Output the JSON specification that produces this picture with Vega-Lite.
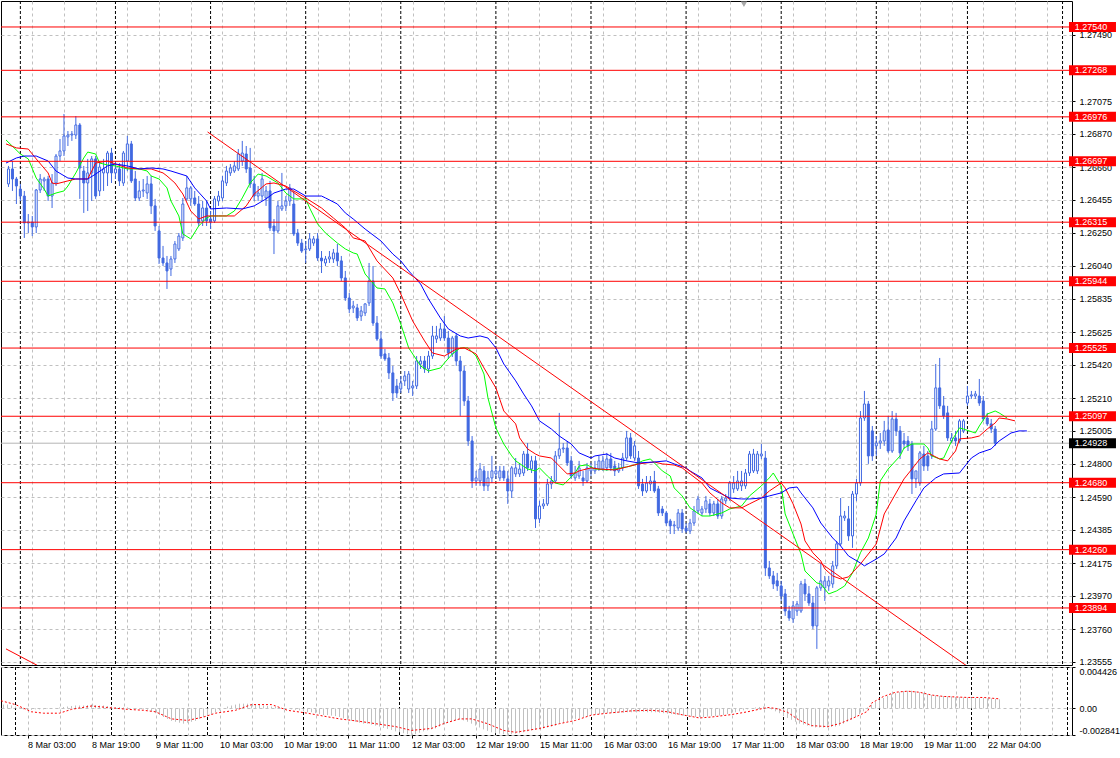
{
"$schema":"https://vega.github.io/schema/vega-lite/v6.json",
"background":"#ffffff",
"padding":0,
"autosize":{"type":"pad"},
"spacing":2,
"bounds":"flush",
"config":{"view":{"stroke":"#000000","strokeWidth":1},"font":"Liberation Sans","axis":{"labelOverlap":false,"labelBound":false,"labelFlush":false,"title":null}},
"datasets":{
"sp":[{"i":0},{"i":24},{"i":48},{"i":72},{"i":96},{"i":120},{"i":144},{"i":168},{"i":192},{"i":216},{"i":239},{"i":263}],
"tg":[{"p":1.2754,"k":"level"},{"p":1.27268,"k":"level"},{"p":1.26976,"k":"level"},{"p":1.26697,"k":"level"},{"p":1.26315,"k":"level"},{"p":1.25944,"k":"level"},{"p":1.25525,"k":"level"},{"p":1.25097,"k":"level"},{"p":1.2468,"k":"level"},{"p":1.2426,"k":"level"},{"p":1.23894,"k":"level"},{"p":1.24928,"k":"bid"}],
"tl":[{"i":47.25,"p":1.26881,"g":"a"},{"i":240,"p":1.2351,"g":"a"},{"i":-3.625,"p":1.23637,"g":"b"},{"i":6,"p":1.23511,"g":"b"}],
"c":[
{"i":-3,"o":1.26555,"h":1.26668,"l":1.26536,"c":1.26649,"m":0.00041},
{"i":-2,"o":1.26649,"h":1.26699,"l":1.26511,"c":1.26586,"m":0.00041},
{"i":-1,"o":1.26586,"h":1.26599,"l":1.26429,"c":1.26542,"m":0.00031},
{"i":0,"o":1.26523,"h":1.26555,"l":1.26448,"c":1.26479,"m":0.0002},
{"i":1,"o":1.26479,"h":1.26511,"l":1.26216,"c":1.2631,"m":0.0001},
{"i":2,"o":1.2631,"h":1.26366,"l":1.26247,"c":1.26316,"m":-0.0001},
{"i":3,"o":1.26316,"h":1.26354,"l":1.26228,"c":1.26285,"m":-0.00015},
{"i":4,"o":1.26285,"h":1.26523,"l":1.26247,"c":1.26517,"m":-0.00015},
{"i":5,"o":1.26517,"h":1.26617,"l":1.26498,"c":1.26586,"m":-0.0001},
{"i":6,"o":1.26574,"h":1.26599,"l":1.26511,"c":1.26586,"m":-0.0001},
{"i":7,"o":1.26586,"h":1.26605,"l":1.26448,"c":1.26479,"m":-0.0001},
{"i":8,"o":1.26479,"h":1.26617,"l":1.26404,"c":1.26561,"m":-0.00005},
{"i":9,"o":1.26561,"h":1.26743,"l":1.26542,"c":1.2673,"m":0},
{"i":10,"o":1.2673,"h":1.26837,"l":1.26699,"c":1.26762,"m":0.00005},
{"i":11,"o":1.26762,"h":1.26994,"l":1.2673,"c":1.26856,"m":0.0001},
{"i":12,"o":1.2685,"h":1.26887,"l":1.26793,"c":1.26862,"m":0.00015},
{"i":13,"o":1.26862,"h":1.26887,"l":1.26825,"c":1.26868,"m":0.0002},
{"i":14,"o":1.26862,"h":1.26981,"l":1.26837,"c":1.26925,"m":0.00026},
{"i":15,"o":1.26925,"h":1.26937,"l":1.26461,"c":1.26655,"m":0.00031},
{"i":16,"o":1.26636,"h":1.26668,"l":1.26373,"c":1.26561,"m":0.00031},
{"i":17,"o":1.26561,"h":1.26712,"l":1.26385,"c":1.26624,"m":0.00031},
{"i":18,"o":1.26624,"h":1.2673,"l":1.26448,"c":1.26712,"m":0.00036},
{"i":19,"o":1.26712,"h":1.2673,"l":1.26461,"c":1.26479,"m":0.00041},
{"i":20,"o":1.26511,"h":1.26699,"l":1.26479,"c":1.26661,"m":0.00036},
{"i":21,"o":1.26624,"h":1.26712,"l":1.26511,"c":1.26649,"m":0.00031},
{"i":22,"o":1.26624,"h":1.26762,"l":1.26542,"c":1.26749,"m":0.00031},
{"i":23,"o":1.26749,"h":1.26781,"l":1.26561,"c":1.26624,"m":0.00026},
{"i":24,"o":1.26624,"h":1.26699,"l":1.26586,"c":1.26649,"m":0.0002},
{"i":25,"o":1.26649,"h":1.26686,"l":1.26542,"c":1.26574,"m":0.00015},
{"i":26,"o":1.26561,"h":1.26762,"l":1.26542,"c":1.26749,"m":0.00015},
{"i":27,"o":1.26699,"h":1.26856,"l":1.26636,"c":1.26806,"m":0.0001},
{"i":28,"o":1.26806,"h":1.26825,"l":1.26561,"c":1.26574,"m":0.0001},
{"i":29,"o":1.26586,"h":1.26636,"l":1.26448,"c":1.26467,"m":0},
{"i":30,"o":1.26467,"h":1.26574,"l":1.26448,"c":1.26511,"m":-0.00005},
{"i":31,"o":1.26511,"h":1.26586,"l":1.26473,"c":1.26517,"m":-0.0001},
{"i":32,"o":1.26498,"h":1.26605,"l":1.26461,"c":1.26555,"m":-0.0001},
{"i":33,"o":1.26555,"h":1.26605,"l":1.26366,"c":1.26417,"m":-0.00015},
{"i":34,"o":1.26417,"h":1.26461,"l":1.2626,"c":1.26291,"m":-0.00031},
{"i":35,"o":1.2626,"h":1.26291,"l":1.26053,"c":1.2609,"m":-0.00051},
{"i":36,"o":1.2609,"h":1.26166,"l":1.2604,"c":1.26059,"m":-0.00071},
{"i":37,"o":1.26059,"h":1.26103,"l":1.25896,"c":1.26009,"m":-0.00092},
{"i":38,"o":1.26021,"h":1.26103,"l":1.25977,"c":1.26084,"m":-0.00112},
{"i":39,"o":1.26084,"h":1.26197,"l":1.26059,"c":1.26178,"m":-0.00133},
{"i":40,"o":1.26147,"h":1.26247,"l":1.26134,"c":1.26228,"m":-0.00143},
{"i":41,"o":1.26216,"h":1.26467,"l":1.26197,"c":1.26429,"m":-0.00153},
{"i":42,"o":1.26461,"h":1.26605,"l":1.26448,"c":1.2653,"m":-0.00163},
{"i":43,"o":1.26461,"h":1.26542,"l":1.26417,"c":1.2653,"m":-0.00153},
{"i":44,"o":1.26467,"h":1.26511,"l":1.26417,"c":1.26429,"m":-0.00143},
{"i":45,"o":1.26429,"h":1.26479,"l":1.26291,"c":1.2631,"m":-0.00133},
{"i":46,"o":1.26323,"h":1.26448,"l":1.26291,"c":1.26404,"m":-0.00112},
{"i":47,"o":1.26404,"h":1.26448,"l":1.26291,"c":1.26323,"m":-0.00092},
{"i":48,"o":1.26335,"h":1.26385,"l":1.26272,"c":1.26316,"m":-0.00082},
{"i":49,"o":1.26323,"h":1.26479,"l":1.2631,"c":1.26461,"m":-0.00061},
{"i":50,"o":1.26448,"h":1.26511,"l":1.26417,"c":1.26479,"m":-0.00041},
{"i":51,"o":1.26467,"h":1.26605,"l":1.26448,"c":1.26574,"m":-0.0002},
{"i":52,"o":1.26561,"h":1.26668,"l":1.26542,"c":1.26636,"m":0},
{"i":53,"o":1.26624,"h":1.2668,"l":1.26605,"c":1.26655,"m":0.0002},
{"i":54,"o":1.26636,"h":1.26699,"l":1.26624,"c":1.26668,"m":0.00031},
{"i":55,"o":1.26649,"h":1.26774,"l":1.26636,"c":1.26743,"m":0.00041},
{"i":56,"o":1.26699,"h":1.26825,"l":1.26668,"c":1.26749,"m":0.00051},
{"i":57,"o":1.26743,"h":1.26793,"l":1.26624,"c":1.26649,"m":0.00051},
{"i":58,"o":1.26655,"h":1.26781,"l":1.2653,"c":1.26555,"m":0.00051},
{"i":59,"o":1.26555,"h":1.26605,"l":1.26448,"c":1.26479,"m":0.00046},
{"i":60,"o":1.26479,"h":1.26542,"l":1.26448,"c":1.26498,"m":0.00041},
{"i":61,"o":1.26479,"h":1.26624,"l":1.26448,"c":1.26586,"m":0.00041},
{"i":62,"o":1.26467,"h":1.26542,"l":1.26417,"c":1.26511,"m":0.00031},
{"i":63,"o":1.26511,"h":1.26574,"l":1.2626,"c":1.26279,"m":0.00026},
{"i":64,"o":1.26291,"h":1.26335,"l":1.26115,"c":1.2626,"m":0.0002},
{"i":65,"o":1.2626,"h":1.26448,"l":1.26247,"c":1.26417,"m":0.00015},
{"i":66,"o":1.26398,"h":1.26624,"l":1.26385,"c":1.26417,"m":0.0001},
{"i":67,"o":1.26417,"h":1.26479,"l":1.26385,"c":1.26448,"m":0.00005},
{"i":68,"o":1.26448,"h":1.26555,"l":1.26417,"c":1.2653,"m":0},
{"i":69,"o":1.26429,"h":1.26511,"l":1.26228,"c":1.26241,"m":-0.0001},
{"i":70,"o":1.26247,"h":1.26272,"l":1.26166,"c":1.26184,"m":-0.00015},
{"i":71,"o":1.26184,"h":1.2621,"l":1.26122,"c":1.26134,"m":-0.0002},
{"i":72,"o":1.26141,"h":1.26197,"l":1.26059,"c":1.26147,"m":-0.00031},
{"i":73,"o":1.26147,"h":1.26247,"l":1.26134,"c":1.2621,"m":-0.00041},
{"i":74,"o":1.26184,"h":1.26228,"l":1.26166,"c":1.2621,"m":-0.00041},
{"i":75,"o":1.2621,"h":1.26247,"l":1.26072,"c":1.2609,"m":-0.00051},
{"i":76,"o":1.2609,"h":1.26134,"l":1.25996,"c":1.26072,"m":-0.00061},
{"i":77,"o":1.26059,"h":1.26103,"l":1.2604,"c":1.26084,"m":-0.00071},
{"i":78,"o":1.26084,"h":1.26134,"l":1.26059,"c":1.26097,"m":-0.00071},
{"i":79,"o":1.26084,"h":1.26147,"l":1.26059,"c":1.26122,"m":-0.00077},
{"i":80,"o":1.26122,"h":1.26178,"l":1.2604,"c":1.26072,"m":-0.00082},
{"i":81,"o":1.26072,"h":1.26103,"l":1.25946,"c":1.25965,"m":-0.00092},
{"i":82,"o":1.25965,"h":1.26009,"l":1.25821,"c":1.25839,"m":-0.00107},
{"i":83,"o":1.25839,"h":1.25871,"l":1.25745,"c":1.2577,"m":-0.00122},
{"i":84,"o":1.25777,"h":1.25821,"l":1.25745,"c":1.25789,"m":-0.00133},
{"i":85,"o":1.25777,"h":1.25802,"l":1.25695,"c":1.25714,"m":-0.00143},
{"i":86,"o":1.25726,"h":1.25789,"l":1.25695,"c":1.25758,"m":-0.00153},
{"i":87,"o":1.25745,"h":1.25806,"l":1.25726,"c":1.25802,"m":-0.00163},
{"i":88,"o":1.25808,"h":1.26059,"l":1.25789,"c":1.25946,"m":-0.00163},
{"i":89,"o":1.25946,"h":1.2604,"l":1.25664,"c":1.25682,"m":-0.00173},
{"i":90,"o":1.25682,"h":1.25726,"l":1.2557,"c":1.25582,"m":-0.00184},
{"i":91,"o":1.25582,"h":1.25632,"l":1.25457,"c":1.25475,"m":-0.00194},
{"i":92,"o":1.25488,"h":1.25519,"l":1.25444,"c":1.25457,"m":-0.00209},
{"i":93,"o":1.25463,"h":1.25494,"l":1.25331,"c":1.25369,"m":-0.00219},
{"i":94,"o":1.25369,"h":1.25413,"l":1.25193,"c":1.25243,"m":-0.0023},
{"i":95,"o":1.25287,"h":1.25331,"l":1.25212,"c":1.25243,"m":-0.00245},
{"i":96,"o":1.25268,"h":1.2535,"l":1.25243,"c":1.25306,"m":-0.00255},
{"i":97,"o":1.25319,"h":1.25381,"l":1.25287,"c":1.2535,"m":-0.00265},
{"i":98,"o":1.25268,"h":1.25381,"l":1.25243,"c":1.25362,"m":-0.00275},
{"i":99,"o":1.25275,"h":1.25319,"l":1.25224,"c":1.25287,"m":-0.00281},
{"i":100,"o":1.25287,"h":1.25475,"l":1.25268,"c":1.25444,"m":-0.00275},
{"i":101,"o":1.25425,"h":1.25475,"l":1.25394,"c":1.25444,"m":-0.0026},
{"i":102,"o":1.25444,"h":1.25475,"l":1.25369,"c":1.25394,"m":-0.00245},
{"i":103,"o":1.25394,"h":1.25507,"l":1.25369,"c":1.25475,"m":-0.00235},
{"i":104,"o":1.25475,"h":1.25664,"l":1.25457,"c":1.25601,"m":-0.00224},
{"i":105,"o":1.25582,"h":1.25664,"l":1.25557,"c":1.25601,"m":-0.00214},
{"i":106,"o":1.25588,"h":1.25682,"l":1.2557,"c":1.25645,"m":-0.00194},
{"i":107,"o":1.25645,"h":1.25726,"l":1.2557,"c":1.25588,"m":-0.00173},
{"i":108,"o":1.25588,"h":1.25632,"l":1.25457,"c":1.25494,"m":-0.00153},
{"i":109,"o":1.25488,"h":1.25601,"l":1.25469,"c":1.25588,"m":-0.00138},
{"i":110,"o":1.25601,"h":1.2562,"l":1.25413,"c":1.25444,"m":-0.00128},
{"i":111,"o":1.25444,"h":1.25475,"l":1.25099,"c":1.25381,"m":-0.00122},
{"i":112,"o":1.25381,"h":1.25413,"l":1.25162,"c":1.25193,"m":-0.00128},
{"i":113,"o":1.25193,"h":1.25224,"l":1.24911,"c":1.24942,"m":-0.00143},
{"i":114,"o":1.24942,"h":1.24973,"l":1.24647,"c":1.24691,"m":-0.00163},
{"i":115,"o":1.24691,"h":1.24754,"l":1.2466,"c":1.2471,"m":-0.00184},
{"i":116,"o":1.24691,"h":1.24804,"l":1.2466,"c":1.24766,"m":-0.00204},
{"i":117,"o":1.24754,"h":1.24785,"l":1.24628,"c":1.2466,"m":-0.00224},
{"i":118,"o":1.2466,"h":1.24754,"l":1.24628,"c":1.2471,"m":-0.0024},
{"i":119,"o":1.2471,"h":1.24848,"l":1.24678,"c":1.24754,"m":-0.00255},
{"i":120,"o":1.24735,"h":1.24785,"l":1.24704,"c":1.24754,"m":-0.00265},
{"i":121,"o":1.2471,"h":1.24785,"l":1.24691,"c":1.24754,"m":-0.0027},
{"i":122,"o":1.24754,"h":1.24785,"l":1.24691,"c":1.2471,"m":-0.00275},
{"i":123,"o":1.24704,"h":1.24754,"l":1.24547,"c":1.24628,"m":-0.00281},
{"i":124,"o":1.24628,"h":1.24785,"l":1.24584,"c":1.24773,"m":-0.00275},
{"i":125,"o":1.24735,"h":1.24835,"l":1.24716,"c":1.24773,"m":-0.0027},
{"i":126,"o":1.24735,"h":1.24804,"l":1.24716,"c":1.24766,"m":-0.00265},
{"i":127,"o":1.24741,"h":1.24879,"l":1.24722,"c":1.2486,"m":-0.00255},
{"i":128,"o":1.2486,"h":1.24929,"l":1.24754,"c":1.24773,"m":-0.00245},
{"i":129,"o":1.24766,"h":1.24848,"l":1.24741,"c":1.24817,"m":-0.00235},
{"i":130,"o":1.24817,"h":1.24848,"l":1.24396,"c":1.24453,"m":-0.0023},
{"i":131,"o":1.24453,"h":1.24566,"l":1.24427,"c":1.24534,"m":-0.00224},
{"i":132,"o":1.24534,"h":1.24578,"l":1.24515,"c":1.24547,"m":-0.00214},
{"i":133,"o":1.24547,"h":1.24704,"l":1.24534,"c":1.24672,"m":-0.00204},
{"i":134,"o":1.24672,"h":1.24722,"l":1.24641,"c":1.24691,"m":-0.00194},
{"i":135,"o":1.24691,"h":1.24879,"l":1.24678,"c":1.24848,"m":-0.00184},
{"i":136,"o":1.24848,"h":1.25118,"l":1.24829,"c":1.24892,"m":-0.00163},
{"i":137,"o":1.24892,"h":1.24929,"l":1.24867,"c":1.24898,"m":-0.00153},
{"i":138,"o":1.24898,"h":1.24942,"l":1.24785,"c":1.24804,"m":-0.00138},
{"i":139,"o":1.24817,"h":1.24848,"l":1.24704,"c":1.24722,"m":-0.00122},
{"i":140,"o":1.2471,"h":1.24785,"l":1.24691,"c":1.24741,"m":-0.00112},
{"i":141,"o":1.24722,"h":1.24817,"l":1.24704,"c":1.24773,"m":-0.00102},
{"i":142,"o":1.2471,"h":1.24754,"l":1.2466,"c":1.24691,"m":-0.00092},
{"i":143,"o":1.24691,"h":1.24804,"l":1.24678,"c":1.24773,"m":-0.00082},
{"i":144,"o":1.24754,"h":1.24804,"l":1.24722,"c":1.24773,"m":-0.00071},
{"i":145,"o":1.24754,"h":1.24817,"l":1.24735,"c":1.24773,"m":-0.00066},
{"i":146,"o":1.24766,"h":1.24848,"l":1.24754,"c":1.24817,"m":-0.00061},
{"i":147,"o":1.24766,"h":1.24848,"l":1.24754,"c":1.24817,"m":-0.00056},
{"i":148,"o":1.24773,"h":1.24867,"l":1.24754,"c":1.24829,"m":-0.00051},
{"i":149,"o":1.24829,"h":1.24867,"l":1.24754,"c":1.24773,"m":-0.00051},
{"i":150,"o":1.24785,"h":1.24817,"l":1.24722,"c":1.24754,"m":-0.00051},
{"i":151,"o":1.24754,"h":1.24804,"l":1.24741,"c":1.24773,"m":-0.00046},
{"i":152,"o":1.24773,"h":1.24867,"l":1.24754,"c":1.24835,"m":-0.00046},
{"i":153,"o":1.24835,"h":1.25005,"l":1.24817,"c":1.24961,"m":-0.00041},
{"i":154,"o":1.24961,"h":1.24992,"l":1.24829,"c":1.24848,"m":-0.00041},
{"i":155,"o":1.24835,"h":1.24942,"l":1.24817,"c":1.24911,"m":-0.00036},
{"i":156,"o":1.24835,"h":1.24879,"l":1.24641,"c":1.2466,"m":-0.00036},
{"i":157,"o":1.24672,"h":1.24704,"l":1.24597,"c":1.24628,"m":-0.00036},
{"i":158,"o":1.24628,"h":1.24722,"l":1.24616,"c":1.24678,"m":-0.00041},
{"i":159,"o":1.24672,"h":1.24722,"l":1.24628,"c":1.24691,"m":-0.00041},
{"i":160,"o":1.24691,"h":1.24754,"l":1.24616,"c":1.24628,"m":-0.00041},
{"i":161,"o":1.24641,"h":1.2466,"l":1.24471,"c":1.2449,"m":-0.00046},
{"i":162,"o":1.24515,"h":1.24534,"l":1.24471,"c":1.2449,"m":-0.00051},
{"i":163,"o":1.2449,"h":1.24503,"l":1.24409,"c":1.24427,"m":-0.00056},
{"i":164,"o":1.2444,"h":1.24453,"l":1.24358,"c":1.24409,"m":-0.00061},
{"i":165,"o":1.24409,"h":1.2444,"l":1.24358,"c":1.24415,"m":-0.00066},
{"i":166,"o":1.24396,"h":1.24515,"l":1.24377,"c":1.2449,"m":-0.00071},
{"i":167,"o":1.2449,"h":1.24515,"l":1.24365,"c":1.2439,"m":-0.00077},
{"i":168,"o":1.24396,"h":1.24427,"l":1.24365,"c":1.24377,"m":-0.00082},
{"i":169,"o":1.24377,"h":1.24453,"l":1.24358,"c":1.24427,"m":-0.00087},
{"i":170,"o":1.24427,"h":1.24534,"l":1.24409,"c":1.24503,"m":-0.00092},
{"i":171,"o":1.24503,"h":1.24597,"l":1.24484,"c":1.24578,"m":-0.00092},
{"i":172,"o":1.2449,"h":1.24534,"l":1.24471,"c":1.24515,"m":-0.00092},
{"i":173,"o":1.24515,"h":1.24597,"l":1.2449,"c":1.24566,"m":-0.00087},
{"i":174,"o":1.24547,"h":1.24578,"l":1.24471,"c":1.2449,"m":-0.00082},
{"i":175,"o":1.2449,"h":1.24566,"l":1.24471,"c":1.24547,"m":-0.00082},
{"i":176,"o":1.24547,"h":1.24578,"l":1.24453,"c":1.24471,"m":-0.00077},
{"i":177,"o":1.24471,"h":1.24597,"l":1.24453,"c":1.24578,"m":-0.00071},
{"i":178,"o":1.24566,"h":1.24609,"l":1.24547,"c":1.24584,"m":-0.00061},
{"i":179,"o":1.24584,"h":1.24691,"l":1.24566,"c":1.24678,"m":-0.00051},
{"i":180,"o":1.24641,"h":1.24722,"l":1.24616,"c":1.24678,"m":-0.00041},
{"i":181,"o":1.24641,"h":1.24754,"l":1.24628,"c":1.24691,"m":-0.00031},
{"i":182,"o":1.2466,"h":1.24754,"l":1.24628,"c":1.24691,"m":-0.0002},
{"i":183,"o":1.2466,"h":1.24766,"l":1.24641,"c":1.24741,"m":-0.0001},
{"i":184,"o":1.24741,"h":1.24879,"l":1.24722,"c":1.2486,"m":0},
{"i":185,"o":1.24754,"h":1.24892,"l":1.24741,"c":1.2486,"m":0.0001},
{"i":186,"o":1.24754,"h":1.24879,"l":1.24735,"c":1.2486,"m":0.00015},
{"i":187,"o":1.24848,"h":1.24923,"l":1.24829,"c":1.2486,"m":0.0002},
{"i":188,"o":1.24835,"h":1.24879,"l":1.24095,"c":1.24145,"m":0.0001},
{"i":189,"o":1.24145,"h":1.24189,"l":1.24076,"c":1.24095,"m":-0.0001},
{"i":190,"o":1.24095,"h":1.24126,"l":1.24013,"c":1.24045,"m":-0.00031},
{"i":191,"o":1.24064,"h":1.24114,"l":1.24001,"c":1.24032,"m":-0.00051},
{"i":192,"o":1.24032,"h":1.24064,"l":1.23938,"c":1.23969,"m":-0.00082},
{"i":193,"o":1.23982,"h":1.24013,"l":1.23844,"c":1.23875,"m":-0.00102},
{"i":194,"o":1.23875,"h":1.23907,"l":1.23813,"c":1.23831,"m":-0.00122},
{"i":195,"o":1.23825,"h":1.23938,"l":1.238,"c":1.23907,"m":-0.00143},
{"i":196,"o":1.23875,"h":1.23938,"l":1.23844,"c":1.23919,"m":-0.00163},
{"i":197,"o":1.23875,"h":1.24064,"l":1.23863,"c":1.24045,"m":-0.00173},
{"i":198,"o":1.24045,"h":1.24076,"l":1.23938,"c":1.23982,"m":-0.00184},
{"i":199,"o":1.23982,"h":1.24032,"l":1.23907,"c":1.23925,"m":-0.00194},
{"i":200,"o":1.23925,"h":1.23969,"l":1.23762,"c":1.23781,"m":-0.00204},
{"i":201,"o":1.23781,"h":1.24032,"l":1.23637,"c":1.2402,"m":-0.00204},
{"i":202,"o":1.2402,"h":1.24176,"l":1.24001,"c":1.24064,"m":-0.00204},
{"i":203,"o":1.2402,"h":1.24095,"l":1.23938,"c":1.24064,"m":-0.00204},
{"i":204,"o":1.24032,"h":1.24095,"l":1.24001,"c":1.24064,"m":-0.00199},
{"i":205,"o":1.24045,"h":1.24189,"l":1.2402,"c":1.24158,"m":-0.00194},
{"i":206,"o":1.24158,"h":1.24315,"l":1.24139,"c":1.24296,"m":-0.00184},
{"i":207,"o":1.24296,"h":1.24584,"l":1.24283,"c":1.24471,"m":-0.00163},
{"i":208,"o":1.24459,"h":1.24503,"l":1.2444,"c":1.24471,"m":-0.00143},
{"i":209,"o":1.24453,"h":1.24534,"l":1.24315,"c":1.24346,"m":-0.00122},
{"i":210,"o":1.24346,"h":1.24628,"l":1.24271,"c":1.24609,"m":-0.00092},
{"i":211,"o":1.24609,"h":1.24704,"l":1.24566,"c":1.24678,"m":-0.00061},
{"i":212,"o":1.24678,"h":1.2513,"l":1.2466,"c":1.25086,"m":-0.00031},
{"i":213,"o":1.25086,"h":1.25256,"l":1.25068,"c":1.25174,"m":0.0001},
{"i":214,"o":1.25174,"h":1.25193,"l":1.24798,"c":1.24848,"m":0.00041},
{"i":215,"o":1.25005,"h":1.25036,"l":1.24817,"c":1.24848,"m":0.00071},
{"i":216,"o":1.24911,"h":1.24973,"l":1.24848,"c":1.24929,"m":0.00092},
{"i":217,"o":1.24929,"h":1.24992,"l":1.24892,"c":1.24942,"m":0.00112},
{"i":218,"o":1.24942,"h":1.25068,"l":1.24911,"c":1.25005,"m":0.00133},
{"i":219,"o":1.25011,"h":1.25099,"l":1.24867,"c":1.24879,"m":0.00153},
{"i":220,"o":1.24879,"h":1.2513,"l":1.24867,"c":1.2508,"m":0.00163},
{"i":221,"o":1.2508,"h":1.25118,"l":1.24973,"c":1.25005,"m":0.00173},
{"i":222,"o":1.25005,"h":1.25036,"l":1.24829,"c":1.24867,"m":0.00184},
{"i":223,"o":1.24942,"h":1.24992,"l":1.24892,"c":1.24923,"m":0.00189},
{"i":224,"o":1.24942,"h":1.24973,"l":1.24879,"c":1.24911,"m":0.00189},
{"i":225,"o":1.24923,"h":1.24942,"l":1.24609,"c":1.24704,"m":0.00184},
{"i":226,"o":1.24704,"h":1.24754,"l":1.24647,"c":1.24754,"m":0.00173},
{"i":227,"o":1.24678,"h":1.24879,"l":1.2466,"c":1.24867,"m":0.00163},
{"i":228,"o":1.2486,"h":1.24911,"l":1.24754,"c":1.24785,"m":0.00153},
{"i":229,"o":1.24848,"h":1.24879,"l":1.24754,"c":1.24785,"m":0.00143},
{"i":230,"o":1.24848,"h":1.25068,"l":1.24829,"c":1.25017,"m":0.00138},
{"i":231,"o":1.25017,"h":1.25425,"l":1.25005,"c":1.25275,"m":0.00133},
{"i":232,"o":1.25275,"h":1.25463,"l":1.25143,"c":1.25162,"m":0.00133},
{"i":233,"o":1.25162,"h":1.25224,"l":1.2508,"c":1.25099,"m":0.00128},
{"i":234,"o":1.25118,"h":1.25162,"l":1.24942,"c":1.24961,"m":0.00128},
{"i":235,"o":1.24942,"h":1.24992,"l":1.24929,"c":1.24961,"m":0.00122},
{"i":236,"o":1.24961,"h":1.25005,"l":1.24911,"c":1.24942,"m":0.00122},
{"i":237,"o":1.24942,"h":1.2508,"l":1.24929,"c":1.25068,"m":0.00117},
{"i":238,"o":1.25005,"h":1.2508,"l":1.24992,"c":1.25068,"m":0.00117},
{"i":239,"o":1.2518,"h":1.25287,"l":1.25162,"c":1.25224,"m":0.00117},
{"i":240,"o":1.25224,"h":1.25256,"l":1.25206,"c":1.25231,"m":0.00112},
{"i":241,"o":1.25224,"h":1.25256,"l":1.25206,"c":1.25237,"m":0.00112},
{"i":242,"o":1.25224,"h":1.25331,"l":1.25162,"c":1.2518,"m":0.00112},
{"i":243,"o":1.25193,"h":1.25224,"l":1.25068,"c":1.2508,"m":0.00107},
{"i":244,"o":1.25086,"h":1.25118,"l":1.25036,"c":1.25049,"m":0.00107},
{"i":245,"o":1.25049,"h":1.2508,"l":1.24992,"c":1.25017,"m":0.00102},
{"i":246,"o":1.25017,"h":1.25036,"l":1.24911,"c":1.24928,"m":0.00097}
],
"ma":[
{"i":-3.625,"p":1.26831,"s":"lips"},{"i":0,"p":1.26743,"s":"lips"},{"i":2,"p":1.26712,"s":"lips"},{"i":4,"p":1.26592,"s":"lips"},{"i":6,"p":1.26523,"s":"lips"},{"i":7,"p":1.26479,"s":"lips"},{"i":9,"p":1.26498,"s":"lips"},{"i":11,"p":1.26511,"s":"lips"},{"i":12,"p":1.26542,"s":"lips"},{"i":14,"p":1.26624,"s":"lips"},{"i":16,"p":1.26718,"s":"lips"},{"i":17,"p":1.26755,"s":"lips"},{"i":19,"p":1.26743,"s":"lips"},{"i":20,"p":1.26686,"s":"lips"},{"i":22,"p":1.26674,"s":"lips"},{"i":24,"p":1.26668,"s":"lips"},{"i":27,"p":1.26649,"s":"lips"},{"i":30,"p":1.26649,"s":"lips"},{"i":32,"p":1.26636,"s":"lips"},{"i":33,"p":1.26605,"s":"lips"},{"i":35,"p":1.26586,"s":"lips"},{"i":37,"p":1.2653,"s":"lips"},{"i":38,"p":1.26448,"s":"lips"},{"i":40,"p":1.26354,"s":"lips"},{"i":41,"p":1.26241,"s":"lips"},{"i":43,"p":1.2621,"s":"lips"},{"i":45,"p":1.26291,"s":"lips"},{"i":47,"p":1.26341,"s":"lips"},{"i":48,"p":1.26354,"s":"lips"},{"i":52,"p":1.26354,"s":"lips"},{"i":54,"p":1.26385,"s":"lips"},{"i":56,"p":1.26467,"s":"lips"},{"i":58,"p":1.26561,"s":"lips"},{"i":60,"p":1.26617,"s":"lips"},{"i":62,"p":1.26605,"s":"lips"},{"i":65,"p":1.26561,"s":"lips"},{"i":67,"p":1.26498,"s":"lips"},{"i":69,"p":1.26461,"s":"lips"},{"i":72,"p":1.26461,"s":"lips"},{"i":73,"p":1.26404,"s":"lips"},{"i":75,"p":1.26304,"s":"lips"},{"i":77,"p":1.26247,"s":"lips"},{"i":80,"p":1.26184,"s":"lips"},{"i":82,"p":1.26147,"s":"lips"},{"i":84,"p":1.26122,"s":"lips"},{"i":85,"p":1.26115,"s":"lips"},{"i":87,"p":1.2599,"s":"lips"},{"i":90,"p":1.25902,"s":"lips"},{"i":92,"p":1.25896,"s":"lips"},{"i":94,"p":1.25808,"s":"lips"},{"i":96,"p":1.25676,"s":"lips"},{"i":98,"p":1.25526,"s":"lips"},{"i":101,"p":1.25413,"s":"lips"},{"i":103,"p":1.25381,"s":"lips"},{"i":106,"p":1.254,"s":"lips"},{"i":107,"p":1.25431,"s":"lips"},{"i":109,"p":1.25488,"s":"lips"},{"i":111,"p":1.25526,"s":"lips"},{"i":113,"p":1.25526,"s":"lips"},{"i":115,"p":1.25475,"s":"lips"},{"i":117,"p":1.25362,"s":"lips"},{"i":118,"p":1.25212,"s":"lips"},{"i":120,"p":1.25024,"s":"lips"},{"i":122,"p":1.24923,"s":"lips"},{"i":124,"p":1.24848,"s":"lips"},{"i":125,"p":1.24817,"s":"lips"},{"i":128,"p":1.24766,"s":"lips"},{"i":130,"p":1.24754,"s":"lips"},{"i":131,"p":1.24773,"s":"lips"},{"i":133,"p":1.24722,"s":"lips"},{"i":135,"p":1.24678,"s":"lips"},{"i":137,"p":1.24666,"s":"lips"},{"i":138,"p":1.24691,"s":"lips"},{"i":140,"p":1.24741,"s":"lips"},{"i":141,"p":1.24785,"s":"lips"},{"i":143,"p":1.24792,"s":"lips"},{"i":145,"p":1.24766,"s":"lips"},{"i":148,"p":1.2476,"s":"lips"},{"i":150,"p":1.24766,"s":"lips"},{"i":153,"p":1.24779,"s":"lips"},{"i":155,"p":1.24791,"s":"lips"},{"i":157,"p":1.24817,"s":"lips"},{"i":159,"p":1.24829,"s":"lips"},{"i":160,"p":1.24804,"s":"lips"},{"i":162,"p":1.24754,"s":"lips"},{"i":164,"p":1.24722,"s":"lips"},{"i":165,"p":1.24647,"s":"lips"},{"i":167,"p":1.24597,"s":"lips"},{"i":169,"p":1.24522,"s":"lips"},{"i":172,"p":1.24471,"s":"lips"},{"i":174,"p":1.24471,"s":"lips"},{"i":177,"p":1.2449,"s":"lips"},{"i":179,"p":1.24515,"s":"lips"},{"i":182,"p":1.24534,"s":"lips"},{"i":184,"p":1.24597,"s":"lips"},{"i":187,"p":1.2466,"s":"lips"},{"i":189,"p":1.2471,"s":"lips"},{"i":190,"p":1.24741,"s":"lips"},{"i":192,"p":1.2466,"s":"lips"},{"i":193,"p":1.24484,"s":"lips"},{"i":195,"p":1.24358,"s":"lips"},{"i":197,"p":1.24233,"s":"lips"},{"i":198,"p":1.24126,"s":"lips"},{"i":201,"p":1.24051,"s":"lips"},{"i":202,"p":1.24045,"s":"lips"},{"i":204,"p":1.23982,"s":"lips"},{"i":206,"p":1.24001,"s":"lips"},{"i":208,"p":1.24032,"s":"lips"},{"i":210,"p":1.24114,"s":"lips"},{"i":212,"p":1.2424,"s":"lips"},{"i":214,"p":1.24333,"s":"lips"},{"i":216,"p":1.24484,"s":"lips"},{"i":217,"p":1.24691,"s":"lips"},{"i":219,"p":1.24766,"s":"lips"},{"i":222,"p":1.24848,"s":"lips"},{"i":223,"p":1.24898,"s":"lips"},{"i":225,"p":1.24923,"s":"lips"},{"i":228,"p":1.24923,"s":"lips"},{"i":229,"p":1.24898,"s":"lips"},{"i":230,"p":1.24848,"s":"lips"},{"i":232,"p":1.24829,"s":"lips"},{"i":233,"p":1.24835,"s":"lips"},{"i":235,"p":1.24942,"s":"lips"},{"i":237,"p":1.25024,"s":"lips"},{"i":238,"p":1.25017,"s":"lips"},{"i":241,"p":1.24992,"s":"lips"},{"i":242,"p":1.25036,"s":"lips"},{"i":244,"p":1.25111,"s":"lips"},{"i":246,"p":1.2513,"s":"lips"},{"i":247,"p":1.25118,"s":"lips"},{"i":249,"p":1.25086,"s":"lips"},
{"i":-3.625,"p":1.26806,"s":"teeth"},{"i":-1,"p":1.26781,"s":"teeth"},{"i":2,"p":1.26774,"s":"teeth"},{"i":4,"p":1.26712,"s":"teeth"},{"i":7,"p":1.26624,"s":"teeth"},{"i":8,"p":1.26561,"s":"teeth"},{"i":9,"p":1.26555,"s":"teeth"},{"i":12,"p":1.26574,"s":"teeth"},{"i":14,"p":1.26586,"s":"teeth"},{"i":17,"p":1.26586,"s":"teeth"},{"i":19,"p":1.26686,"s":"teeth"},{"i":22,"p":1.26699,"s":"teeth"},{"i":24,"p":1.2668,"s":"teeth"},{"i":27,"p":1.26655,"s":"teeth"},{"i":30,"p":1.26649,"s":"teeth"},{"i":33,"p":1.26649,"s":"teeth"},{"i":36,"p":1.26624,"s":"teeth"},{"i":37,"p":1.26605,"s":"teeth"},{"i":39,"p":1.26561,"s":"teeth"},{"i":41,"p":1.26492,"s":"teeth"},{"i":43,"p":1.26385,"s":"teeth"},{"i":45,"p":1.26335,"s":"teeth"},{"i":47,"p":1.26354,"s":"teeth"},{"i":50,"p":1.26354,"s":"teeth"},{"i":54,"p":1.26354,"s":"teeth"},{"i":57,"p":1.26417,"s":"teeth"},{"i":59,"p":1.26492,"s":"teeth"},{"i":62,"p":1.26555,"s":"teeth"},{"i":64,"p":1.26561,"s":"teeth"},{"i":67,"p":1.26542,"s":"teeth"},{"i":69,"p":1.26511,"s":"teeth"},{"i":72,"p":1.26467,"s":"teeth"},{"i":76,"p":1.26404,"s":"teeth"},{"i":79,"p":1.26341,"s":"teeth"},{"i":82,"p":1.26279,"s":"teeth"},{"i":84,"p":1.26216,"s":"teeth"},{"i":87,"p":1.26197,"s":"teeth"},{"i":90,"p":1.26072,"s":"teeth"},{"i":94,"p":1.25965,"s":"teeth"},{"i":96,"p":1.25864,"s":"teeth"},{"i":99,"p":1.25695,"s":"teeth"},{"i":102,"p":1.2557,"s":"teeth"},{"i":104,"p":1.25494,"s":"teeth"},{"i":107,"p":1.25475,"s":"teeth"},{"i":110,"p":1.25519,"s":"teeth"},{"i":112,"p":1.25526,"s":"teeth"},{"i":115,"p":1.25488,"s":"teeth"},{"i":117,"p":1.254,"s":"teeth"},{"i":120,"p":1.25275,"s":"teeth"},{"i":122,"p":1.2513,"s":"teeth"},{"i":125,"p":1.25049,"s":"teeth"},{"i":126,"p":1.24961,"s":"teeth"},{"i":128,"p":1.24892,"s":"teeth"},{"i":130,"p":1.2486,"s":"teeth"},{"i":131,"p":1.24848,"s":"teeth"},{"i":134,"p":1.24835,"s":"teeth"},{"i":136,"p":1.24785,"s":"teeth"},{"i":138,"p":1.24735,"s":"teeth"},{"i":140,"p":1.24741,"s":"teeth"},{"i":141,"p":1.24754,"s":"teeth"},{"i":144,"p":1.24773,"s":"teeth"},{"i":146,"p":1.24766,"s":"teeth"},{"i":150,"p":1.2476,"s":"teeth"},{"i":153,"p":1.24779,"s":"teeth"},{"i":156,"p":1.24798,"s":"teeth"},{"i":160,"p":1.2481,"s":"teeth"},{"i":162,"p":1.24798,"s":"teeth"},{"i":165,"p":1.24791,"s":"teeth"},{"i":167,"p":1.24773,"s":"teeth"},{"i":169,"p":1.24735,"s":"teeth"},{"i":172,"p":1.24678,"s":"teeth"},{"i":174,"p":1.24616,"s":"teeth"},{"i":177,"p":1.24553,"s":"teeth"},{"i":179,"p":1.24522,"s":"teeth"},{"i":182,"p":1.24522,"s":"teeth"},{"i":184,"p":1.24547,"s":"teeth"},{"i":187,"p":1.24584,"s":"teeth"},{"i":189,"p":1.24628,"s":"teeth"},{"i":192,"p":1.24678,"s":"teeth"},{"i":193,"p":1.24647,"s":"teeth"},{"i":195,"p":1.24547,"s":"teeth"},{"i":197,"p":1.24421,"s":"teeth"},{"i":198,"p":1.24315,"s":"teeth"},{"i":200,"p":1.2424,"s":"teeth"},{"i":202,"p":1.24189,"s":"teeth"},{"i":203,"p":1.24139,"s":"teeth"},{"i":205,"p":1.24095,"s":"teeth"},{"i":207,"p":1.24076,"s":"teeth"},{"i":209,"p":1.24089,"s":"teeth"},{"i":212,"p":1.2417,"s":"teeth"},{"i":216,"p":1.24296,"s":"teeth"},{"i":218,"p":1.24484,"s":"teeth"},{"i":221,"p":1.24616,"s":"teeth"},{"i":223,"p":1.24704,"s":"teeth"},{"i":225,"p":1.24766,"s":"teeth"},{"i":227,"p":1.24829,"s":"teeth"},{"i":229,"p":1.24867,"s":"teeth"},{"i":232,"p":1.24829,"s":"teeth"},{"i":234,"p":1.24817,"s":"teeth"},{"i":236,"p":1.24879,"s":"teeth"},{"i":237,"p":1.24955,"s":"teeth"},{"i":240,"p":1.24961,"s":"teeth"},{"i":242,"p":1.24973,"s":"teeth"},{"i":244,"p":1.25017,"s":"teeth"},{"i":246,"p":1.25055,"s":"teeth"},{"i":247,"p":1.25086,"s":"teeth"},{"i":249,"p":1.2508,"s":"teeth"},{"i":251,"p":1.25068,"s":"teeth"},
{"i":-3.625,"p":1.26686,"s":"jaw"},{"i":-1,"p":1.26718,"s":"jaw"},{"i":1,"p":1.2673,"s":"jaw"},{"i":4,"p":1.2673,"s":"jaw"},{"i":7,"p":1.26699,"s":"jaw"},{"i":9,"p":1.26636,"s":"jaw"},{"i":12,"p":1.26592,"s":"jaw"},{"i":14,"p":1.26586,"s":"jaw"},{"i":17,"p":1.26586,"s":"jaw"},{"i":19,"p":1.26617,"s":"jaw"},{"i":22,"p":1.26668,"s":"jaw"},{"i":24,"p":1.2668,"s":"jaw"},{"i":27,"p":1.26668,"s":"jaw"},{"i":30,"p":1.26649,"s":"jaw"},{"i":33,"p":1.26655,"s":"jaw"},{"i":36,"p":1.26649,"s":"jaw"},{"i":38,"p":1.26636,"s":"jaw"},{"i":42,"p":1.26605,"s":"jaw"},{"i":44,"p":1.2653,"s":"jaw"},{"i":47,"p":1.26448,"s":"jaw"},{"i":48,"p":1.26398,"s":"jaw"},{"i":52,"p":1.26404,"s":"jaw"},{"i":56,"p":1.26398,"s":"jaw"},{"i":59,"p":1.26417,"s":"jaw"},{"i":62,"p":1.26461,"s":"jaw"},{"i":64,"p":1.26498,"s":"jaw"},{"i":67,"p":1.26523,"s":"jaw"},{"i":69,"p":1.26523,"s":"jaw"},{"i":72,"p":1.26479,"s":"jaw"},{"i":76,"p":1.26479,"s":"jaw"},{"i":77,"p":1.26467,"s":"jaw"},{"i":80,"p":1.26429,"s":"jaw"},{"i":82,"p":1.26373,"s":"jaw"},{"i":84,"p":1.26335,"s":"jaw"},{"i":87,"p":1.26272,"s":"jaw"},{"i":91,"p":1.26197,"s":"jaw"},{"i":94,"p":1.26115,"s":"jaw"},{"i":96,"p":1.26072,"s":"jaw"},{"i":98,"p":1.26009,"s":"jaw"},{"i":101,"p":1.25927,"s":"jaw"},{"i":103,"p":1.25833,"s":"jaw"},{"i":106,"p":1.25714,"s":"jaw"},{"i":108,"p":1.25645,"s":"jaw"},{"i":111,"p":1.25601,"s":"jaw"},{"i":113,"p":1.25588,"s":"jaw"},{"i":116,"p":1.25601,"s":"jaw"},{"i":118,"p":1.25588,"s":"jaw"},{"i":120,"p":1.25526,"s":"jaw"},{"i":122,"p":1.25425,"s":"jaw"},{"i":125,"p":1.25319,"s":"jaw"},{"i":127,"p":1.25237,"s":"jaw"},{"i":129,"p":1.25162,"s":"jaw"},{"i":131,"p":1.25068,"s":"jaw"},{"i":134,"p":1.25017,"s":"jaw"},{"i":136,"p":1.24973,"s":"jaw"},{"i":139,"p":1.24923,"s":"jaw"},{"i":141,"p":1.24867,"s":"jaw"},{"i":144,"p":1.24835,"s":"jaw"},{"i":145,"p":1.24848,"s":"jaw"},{"i":148,"p":1.2486,"s":"jaw"},{"i":150,"p":1.24835,"s":"jaw"},{"i":153,"p":1.24817,"s":"jaw"},{"i":156,"p":1.24804,"s":"jaw"},{"i":160,"p":1.2481,"s":"jaw"},{"i":163,"p":1.24817,"s":"jaw"},{"i":165,"p":1.24798,"s":"jaw"},{"i":168,"p":1.24773,"s":"jaw"},{"i":169,"p":1.24754,"s":"jaw"},{"i":172,"p":1.2471,"s":"jaw"},{"i":174,"p":1.24647,"s":"jaw"},{"i":177,"p":1.24609,"s":"jaw"},{"i":179,"p":1.24584,"s":"jaw"},{"i":182,"p":1.24578,"s":"jaw"},{"i":184,"p":1.24578,"s":"jaw"},{"i":187,"p":1.24584,"s":"jaw"},{"i":189,"p":1.24597,"s":"jaw"},{"i":192,"p":1.24616,"s":"jaw"},{"i":194,"p":1.24647,"s":"jaw"},{"i":196,"p":1.24653,"s":"jaw"},{"i":197,"p":1.24616,"s":"jaw"},{"i":200,"p":1.24522,"s":"jaw"},{"i":202,"p":1.24427,"s":"jaw"},{"i":205,"p":1.24333,"s":"jaw"},{"i":207,"p":1.24283,"s":"jaw"},{"i":209,"p":1.2422,"s":"jaw"},{"i":212,"p":1.24176,"s":"jaw"},{"i":213,"p":1.24158,"s":"jaw"},{"i":216,"p":1.24201,"s":"jaw"},{"i":218,"p":1.24233,"s":"jaw"},{"i":221,"p":1.24333,"s":"jaw"},{"i":223,"p":1.2444,"s":"jaw"},{"i":226,"p":1.24566,"s":"jaw"},{"i":228,"p":1.24647,"s":"jaw"},{"i":231,"p":1.2471,"s":"jaw"},{"i":233,"p":1.24735,"s":"jaw"},{"i":237,"p":1.24741,"s":"jaw"},{"i":238,"p":1.24773,"s":"jaw"},{"i":240,"p":1.24835,"s":"jaw"},{"i":242,"p":1.24867,"s":"jaw"},{"i":245,"p":1.24892,"s":"jaw"},{"i":247,"p":1.24942,"s":"jaw"},{"i":250,"p":1.24992,"s":"jaw"},{"i":252,"p":1.25005,"s":"jaw"},{"i":254,"p":1.25005,"s":"jaw"}
],
"sg":[
{"i":-3.625,"v":0.00082},{"i":0,"v":0.00041},{"i":4,"v":-0.00036},{"i":7,"v":-0.00051},{"i":11,"v":-0.00051},{"i":14,"v":-0.0001},{"i":19,"v":0.00026},{"i":23,"v":0.0001},{"i":28,"v":-0.0001},{"i":32,"v":-0.0002},{"i":35,"v":-0.00036},{"i":39,"v":-0.00112},{"i":43,"v":-0.00128},{"i":47,"v":-0.00092},{"i":50,"v":-0.00051},{"i":55,"v":-0.0002},{"i":59,"v":0.00041},{"i":64,"v":0.00041},{"i":68,"v":-0.0002},{"i":73,"v":-0.00051},{"i":77,"v":-0.00082},{"i":81,"v":-0.00112},{"i":86,"v":-0.00138},{"i":90,"v":-0.00163},{"i":95,"v":-0.00194},{"i":99,"v":-0.00235},{"i":104,"v":-0.00214},{"i":107,"v":-0.00163},{"i":111,"v":-0.00112},{"i":114,"v":-0.00112},{"i":118,"v":-0.00163},{"i":122,"v":-0.00235},{"i":125,"v":-0.00255},{"i":131,"v":-0.00214},{"i":136,"v":-0.00163},{"i":140,"v":-0.00128},{"i":144,"v":-0.00071},{"i":148,"v":-0.00051},{"i":154,"v":-0.00026},{"i":159,"v":-0.0002},{"i":163,"v":-0.00036},{"i":167,"v":-0.00071},{"i":171,"v":-0.00102},{"i":174,"v":-0.00092},{"i":179,"v":-0.00066},{"i":183,"v":-0.00036},{"i":188,"v":0.0001},{"i":190,"v":0},{"i":193,"v":-0.00041},{"i":196,"v":-0.00128},{"i":199,"v":-0.00184},{"i":203,"v":-0.00194},{"i":206,"v":-0.00163},{"i":210,"v":-0.00092},{"i":213,"v":-0.00031},{"i":214,"v":0.00056},{"i":217,"v":0.00128},{"i":220,"v":0.00173},{"i":223,"v":0.00184},{"i":226,"v":0.00173},{"i":229,"v":0.00143},{"i":232,"v":0.00128},{"i":238,"v":0.00117},{"i":242,"v":0.00117},{"i":246,"v":0.00102}
]
},
"vconcat":[
{
"width":1071,"height":664,
"layer":[
{"data":{"name":"sp"},"mark":{"type":"rule","color":"#000000","strokeDash":[3,2],"strokeWidth":1},
 "encoding":{"x":{"field":"i","type":"quantitative","scale":{"domain":[-3.625,264.125],"nice":false,"zero":false},
  "axis":{"values":[3,11,19,27,35,43,51,59,67,75,83,91,99,107,115,123,131,139,147,155,163,171,179,187,195,203,211,219,227,235,243,251,259],"labels":false,"ticks":false,"domain":false,"grid":true,"gridColor":"#c0c0c0","gridDash":[3,3],"gridWidth":1,"title":null}}}},
{"data":{"name":"tg"},"transform":[{"filter":"datum.k == 'bid'"}],"mark":{"type":"rule","color":"#b4b4b4","strokeWidth":1},
 "encoding":{"y":{"field":"p","type":"quantitative","scale":{"domain":[1.23536,1.27703],"nice":false,"zero":false},
  "axis":{"orient":"right","values":[1.2749,1.27075,1.2687,1.2666,1.26455,1.2625,1.2604,1.25835,1.25625,1.2542,1.2521,1.25005,1.248,1.2459,1.24385,1.24175,1.2397,1.2376,1.23555],"format":".5f","grid":true,"gridColor":"#c0c0c0","gridDash":[3,3],"gridWidth":1,"tickSize":3,"tickColor":"#000000","labelPadding":4,"labelFontSize":9,"labelFont":"Liberation Sans","labelColor":"#000000","labelOverlap":false,"labelBound":false,"domain":false,"title":null}}}},
{"data":{"name":"c"},"mark":{"type":"rule","color":"#4169e1","strokeWidth":1,"clip":true},
 "encoding":{"x":{"field":"i","type":"quantitative","scale":{"domain":[-3.625,264.125],"nice":false,"zero":false},
  "axis":{"values":[3,11,19,27,35,43,51,59,67,75,83,91,99,107,115,123,131,139,147,155,163,171,179,187,195,203,211,219,227,235,243,251,259],"labels":false,"ticks":false,"domain":false,"grid":true,"gridColor":"#c0c0c0","gridDash":[3,3],"gridWidth":1,"title":null}},
  "y":{"field":"l","type":"quantitative","scale":{"domain":[1.23536,1.27703],"nice":false,"zero":false},
  "axis":{"orient":"right","values":[1.2749,1.27075,1.2687,1.2666,1.26455,1.2625,1.2604,1.25835,1.25625,1.2542,1.2521,1.25005,1.248,1.2459,1.24385,1.24175,1.2397,1.2376,1.23555],"format":".5f","grid":true,"gridColor":"#c0c0c0","gridDash":[3,3],"gridWidth":1,"tickSize":3,"tickColor":"#000000","labelPadding":4,"labelFontSize":9,"labelFont":"Liberation Sans","labelColor":"#000000","labelOverlap":false,"labelBound":false,"domain":false,"title":null}},"y2":{"field":"h"}}},
{"data":{"name":"c"},"mark":{"type":"bar","width":2,"stroke":"#4169e1","strokeWidth":1,"clip":true},
 "encoding":{"x":{"field":"i","type":"quantitative","scale":{"domain":[-3.625,264.125],"nice":false,"zero":false},
  "axis":{"values":[3,11,19,27,35,43,51,59,67,75,83,91,99,107,115,123,131,139,147,155,163,171,179,187,195,203,211,219,227,235,243,251,259],"labels":false,"ticks":false,"domain":false,"grid":true,"gridColor":"#c0c0c0","gridDash":[3,3],"gridWidth":1,"title":null}},
  "y":{"field":"o","type":"quantitative","scale":{"domain":[1.23536,1.27703],"nice":false,"zero":false},
  "axis":{"orient":"right","values":[1.2749,1.27075,1.2687,1.2666,1.26455,1.2625,1.2604,1.25835,1.25625,1.2542,1.2521,1.25005,1.248,1.2459,1.24385,1.24175,1.2397,1.2376,1.23555],"format":".5f","grid":true,"gridColor":"#c0c0c0","gridDash":[3,3],"gridWidth":1,"tickSize":3,"tickColor":"#000000","labelPadding":4,"labelFontSize":9,"labelFont":"Liberation Sans","labelColor":"#000000","labelOverlap":false,"labelBound":false,"domain":false,"title":null}},"y2":{"field":"c"},
  "fill":{"condition":{"test":"datum.c > datum.o","value":"#ffffff"},"value":"#4169e1"}}},
{"data":{"name":"ma"},"mark":{"type":"line","strokeWidth":1,"clip":true},
 "encoding":{"x":{"field":"i","type":"quantitative","scale":{"domain":[-3.625,264.125],"nice":false,"zero":false},
  "axis":{"values":[3,11,19,27,35,43,51,59,67,75,83,91,99,107,115,123,131,139,147,155,163,171,179,187,195,203,211,219,227,235,243,251,259],"labels":false,"ticks":false,"domain":false,"grid":true,"gridColor":"#c0c0c0","gridDash":[3,3],"gridWidth":1,"title":null}},
  "y":{"field":"p","type":"quantitative","scale":{"domain":[1.23536,1.27703],"nice":false,"zero":false},
  "axis":{"orient":"right","values":[1.2749,1.27075,1.2687,1.2666,1.26455,1.2625,1.2604,1.25835,1.25625,1.2542,1.2521,1.25005,1.248,1.2459,1.24385,1.24175,1.2397,1.2376,1.23555],"format":".5f","grid":true,"gridColor":"#c0c0c0","gridDash":[3,3],"gridWidth":1,"tickSize":3,"tickColor":"#000000","labelPadding":4,"labelFontSize":9,"labelFont":"Liberation Sans","labelColor":"#000000","labelOverlap":false,"labelBound":false,"domain":false,"title":null}},
  "stroke":{"field":"s","type":"nominal","scale":{"domain":["jaw","teeth","lips"],"range":["#0000ff","#ff0000","#00ff00"]},"legend":null}}},
{"data":{"name":"tg"},"transform":[{"filter":"datum.k == 'level'"}],"mark":{"type":"rule","color":"#ff0000","strokeWidth":1},
 "encoding":{"y":{"field":"p","type":"quantitative","scale":{"domain":[1.23536,1.27703],"nice":false,"zero":false},
  "axis":{"orient":"right","values":[1.2749,1.27075,1.2687,1.2666,1.26455,1.2625,1.2604,1.25835,1.25625,1.2542,1.2521,1.25005,1.248,1.2459,1.24385,1.24175,1.2397,1.2376,1.23555],"format":".5f","grid":true,"gridColor":"#c0c0c0","gridDash":[3,3],"gridWidth":1,"tickSize":3,"tickColor":"#000000","labelPadding":4,"labelFontSize":9,"labelFont":"Liberation Sans","labelColor":"#000000","labelOverlap":false,"labelBound":false,"domain":false,"title":null}}}},
{"data":{"name":"tl"},"mark":{"type":"line","color":"#ff0000","strokeWidth":1,"clip":true},
 "encoding":{"x":{"field":"i","type":"quantitative","scale":{"domain":[-3.625,264.125],"nice":false,"zero":false},
  "axis":{"values":[3,11,19,27,35,43,51,59,67,75,83,91,99,107,115,123,131,139,147,155,163,171,179,187,195,203,211,219,227,235,243,251,259],"labels":false,"ticks":false,"domain":false,"grid":true,"gridColor":"#c0c0c0","gridDash":[3,3],"gridWidth":1,"title":null}},
  "y":{"field":"p","type":"quantitative","scale":{"domain":[1.23536,1.27703],"nice":false,"zero":false},
  "axis":{"orient":"right","values":[1.2749,1.27075,1.2687,1.2666,1.26455,1.2625,1.2604,1.25835,1.25625,1.2542,1.2521,1.25005,1.248,1.2459,1.24385,1.24175,1.2397,1.2376,1.23555],"format":".5f","grid":true,"gridColor":"#c0c0c0","gridDash":[3,3],"gridWidth":1,"tickSize":3,"tickColor":"#000000","labelPadding":4,"labelFontSize":9,"labelFont":"Liberation Sans","labelColor":"#000000","labelOverlap":false,"labelBound":false,"domain":false,"title":null}},
  "detail":{"field":"g","type":"nominal"}}},
{"data":{"name":"tg"},"mark":{"type":"point","shape":"M0,-0.833H7.833V0.833H0Z","size":144,"filled":true,"opacity":1,"strokeWidth":0},
 "encoding":{"x":{"datum":264.625,"type":"quantitative","scale":{"domain":[-3.625,264.125],"nice":false,"zero":false},
  "axis":{"values":[3,11,19,27,35,43,51,59,67,75,83,91,99,107,115,123,131,139,147,155,163,171,179,187,195,203,211,219,227,235,243,251,259],"labels":false,"ticks":false,"domain":false,"grid":true,"gridColor":"#c0c0c0","gridDash":[3,3],"gridWidth":1,"title":null}},
  "y":{"field":"p","type":"quantitative","scale":{"domain":[1.23536,1.27703],"nice":false,"zero":false},
  "axis":{"orient":"right","values":[1.2749,1.27075,1.2687,1.2666,1.26455,1.2625,1.2604,1.25835,1.25625,1.2542,1.2521,1.25005,1.248,1.2459,1.24385,1.24175,1.2397,1.2376,1.23555],"format":".5f","grid":true,"gridColor":"#c0c0c0","gridDash":[3,3],"gridWidth":1,"tickSize":3,"tickColor":"#000000","labelPadding":4,"labelFontSize":9,"labelFont":"Liberation Sans","labelColor":"#000000","labelOverlap":false,"labelBound":false,"domain":false,"title":null}},
  "fill":{"field":"k","type":"nominal","scale":{"domain":["level","bid"],"range":["#ff0000","#000000"]},"legend":null}}},
{"data":{"name":"tg"},"mark":{"type":"text","align":"left","baseline":"middle","color":"#ffffff","fontSize":9,"font":"Liberation Sans"},
 "encoding":{"x":{"datum":266.1,"type":"quantitative","scale":{"domain":[-3.625,264.125],"nice":false,"zero":false},
  "axis":{"values":[3,11,19,27,35,43,51,59,67,75,83,91,99,107,115,123,131,139,147,155,163,171,179,187,195,203,211,219,227,235,243,251,259],"labels":false,"ticks":false,"domain":false,"grid":true,"gridColor":"#c0c0c0","gridDash":[3,3],"gridWidth":1,"title":null}},
  "y":{"field":"p","type":"quantitative","scale":{"domain":[1.23536,1.27703],"nice":false,"zero":false},
  "axis":{"orient":"right","values":[1.2749,1.27075,1.2687,1.2666,1.26455,1.2625,1.2604,1.25835,1.25625,1.2542,1.2521,1.25005,1.248,1.2459,1.24385,1.24175,1.2397,1.2376,1.23555],"format":".5f","grid":true,"gridColor":"#c0c0c0","gridDash":[3,3],"gridWidth":1,"tickSize":3,"tickColor":"#000000","labelPadding":4,"labelFontSize":9,"labelFont":"Liberation Sans","labelColor":"#000000","labelOverlap":false,"labelBound":false,"domain":false,"title":null}},
  "text":{"field":"p","type":"quantitative","format":".5f"}}},
{"data":{"values":[{}]},"mark":{"type":"point","shape":"triangle-down","size":40,"filled":true,"color":"#a8a8a8","opacity":1},
 "encoding":{"x":{"datum":182.6,"type":"quantitative","scale":{"domain":[-3.625,264.125],"nice":false,"zero":false},
  "axis":{"values":[3,11,19,27,35,43,51,59,67,75,83,91,99,107,115,123,131,139,147,155,163,171,179,187,195,203,211,219,227,235,243,251,259],"labels":false,"ticks":false,"domain":false,"grid":true,"gridColor":"#c0c0c0","gridDash":[3,3],"gridWidth":1,"title":null}},
  "y":{"datum":1.27683,"type":"quantitative","scale":{"domain":[1.23536,1.27703],"nice":false,"zero":false},
  "axis":{"orient":"right","values":[1.2749,1.27075,1.2687,1.2666,1.26455,1.2625,1.2604,1.25835,1.25625,1.2542,1.2521,1.25005,1.248,1.2459,1.24385,1.24175,1.2397,1.2376,1.23555],"format":".5f","grid":true,"gridColor":"#c0c0c0","gridDash":[3,3],"gridWidth":1,"tickSize":3,"tickColor":"#000000","labelPadding":4,"labelFontSize":9,"labelFont":"Liberation Sans","labelColor":"#000000","labelOverlap":false,"labelBound":false,"domain":false,"title":null}}}}
]
},
{
"width":1071,"height":68,
"layer":[
{"data":{"name":"sp"},"mark":{"type":"rule","color":"#000000","strokeDash":[3,2],"strokeWidth":1},
 "encoding":{"x":{"field":"i","type":"quantitative","scale":{"domain":[-3.625,264.125],"nice":false,"zero":false},
  "axis":{"values":[3,11,19,27,35,43,51,59,67,75,83,91,99,107,115,123,131,139,147,155,163,171,179,187,195,203,211,219,227,235,243,251,259],
   "labelExpr":"(datum.value - 3) % 16 == 0 && datum.value < 250 ? ['8 Mar 03:00','8 Mar 19:00','9 Mar 11:00','10 Mar 03:00','10 Mar 19:00','11 Mar 11:00','12 Mar 03:00','12 Mar 19:00','15 Mar 11:00','16 Mar 03:00','16 Mar 19:00','17 Mar 11:00','18 Mar 03:00','18 Mar 19:00','19 Mar 11:00','22 Mar 04:00'][(datum.value - 3) / 16] : ''",
   "labelAlign":"left","labelBaseline":"top","labelPadding":2,"labelFontSize":9,"labelFont":"Liberation Sans","labelColor":"#000000","labelOverlap":false,"labelFlush":false,"labelBound":false,
   "tickSize":3,"tickColor":"#000000","tickOpacity":{"condition":{"test":"(datum.value - 3) % 16 == 0 && datum.value < 250","value":1},"value":0},
   "domain":false,"grid":true,"gridColor":"#c0c0c0","gridDash":[3,3],"gridWidth":1,"title":null}}}},
{"data":{"name":"c"},"mark":{"type":"rule","color":"#c0c0c0","strokeWidth":1,"clip":true},
 "encoding":{"x":{"field":"i","type":"quantitative","scale":{"domain":[-3.625,264.125],"nice":false,"zero":false},
  "axis":{"values":[3,11,19,27,35,43,51,59,67,75,83,91,99,107,115,123,131,139,147,155,163,171,179,187,195,203,211,219,227,235,243,251,259],
   "labelExpr":"(datum.value - 3) % 16 == 0 && datum.value < 250 ? ['8 Mar 03:00','8 Mar 19:00','9 Mar 11:00','10 Mar 03:00','10 Mar 19:00','11 Mar 11:00','12 Mar 03:00','12 Mar 19:00','15 Mar 11:00','16 Mar 03:00','16 Mar 19:00','17 Mar 11:00','18 Mar 03:00','18 Mar 19:00','19 Mar 11:00','22 Mar 04:00'][(datum.value - 3) / 16] : ''",
   "labelAlign":"left","labelBaseline":"top","labelPadding":2,"labelFontSize":9,"labelFont":"Liberation Sans","labelColor":"#000000","labelOverlap":false,"labelFlush":false,"labelBound":false,
   "tickSize":3,"tickColor":"#000000","tickOpacity":{"condition":{"test":"(datum.value - 3) % 16 == 0 && datum.value < 250","value":1},"value":0},
   "domain":false,"grid":true,"gridColor":"#c0c0c0","gridDash":[3,3],"gridWidth":1,"title":null}},
  "y":{"field":"m","type":"quantitative","scale":{"domain":[-0.002841,0.004426],"nice":false,"zero":false},
   "axis":{"orient":"right","values":[0.004426,0,-0.002841],
    "labelExpr":"datum.value == 0 ? '0.00' : (datum.value < 0 ? '-' : '') + format(abs(datum.value), '.6f')",
    "labelBaseline":{"expr":"datum.value > 0.004 ? 'top' : (datum.value < -0.002 ? 'bottom' : 'middle')"},
    "grid":true,"gridColor":"#c0c0c0","gridDash":[3,3],"gridWidth":1,"tickSize":3,"tickColor":"#000000","labelPadding":4,"labelFontSize":9,"labelFont":"Liberation Sans","labelColor":"#000000","labelOverlap":false,"labelBound":false,"domain":false,"title":null}},
  "y2":{"datum":0}}},
{"data":{"name":"sg"},"mark":{"type":"line","color":"#ff0000","strokeWidth":1,"strokeDash":[2,2],"clip":true},
 "encoding":{"x":{"field":"i","type":"quantitative","scale":{"domain":[-3.625,264.125],"nice":false,"zero":false},
  "axis":{"values":[3,11,19,27,35,43,51,59,67,75,83,91,99,107,115,123,131,139,147,155,163,171,179,187,195,203,211,219,227,235,243,251,259],
   "labelExpr":"(datum.value - 3) % 16 == 0 && datum.value < 250 ? ['8 Mar 03:00','8 Mar 19:00','9 Mar 11:00','10 Mar 03:00','10 Mar 19:00','11 Mar 11:00','12 Mar 03:00','12 Mar 19:00','15 Mar 11:00','16 Mar 03:00','16 Mar 19:00','17 Mar 11:00','18 Mar 03:00','18 Mar 19:00','19 Mar 11:00','22 Mar 04:00'][(datum.value - 3) / 16] : ''",
   "labelAlign":"left","labelBaseline":"top","labelPadding":2,"labelFontSize":9,"labelFont":"Liberation Sans","labelColor":"#000000","labelOverlap":false,"labelFlush":false,"labelBound":false,
   "tickSize":3,"tickColor":"#000000","tickOpacity":{"condition":{"test":"(datum.value - 3) % 16 == 0 && datum.value < 250","value":1},"value":0},
   "domain":false,"grid":true,"gridColor":"#c0c0c0","gridDash":[3,3],"gridWidth":1,"title":null}},
  "y":{"field":"v","type":"quantitative","scale":{"domain":[-0.002841,0.004426],"nice":false,"zero":false},
   "axis":{"orient":"right","values":[0.004426,0,-0.002841],
    "labelExpr":"datum.value == 0 ? '0.00' : (datum.value < 0 ? '-' : '') + format(abs(datum.value), '.6f')",
    "labelBaseline":{"expr":"datum.value > 0.004 ? 'top' : (datum.value < -0.002 ? 'bottom' : 'middle')"},
    "grid":true,"gridColor":"#c0c0c0","gridDash":[3,3],"gridWidth":1,"tickSize":3,"tickColor":"#000000","labelPadding":4,"labelFontSize":9,"labelFont":"Liberation Sans","labelColor":"#000000","labelOverlap":false,"labelBound":false,"domain":false,"title":null}}}}
]
}
]
}
